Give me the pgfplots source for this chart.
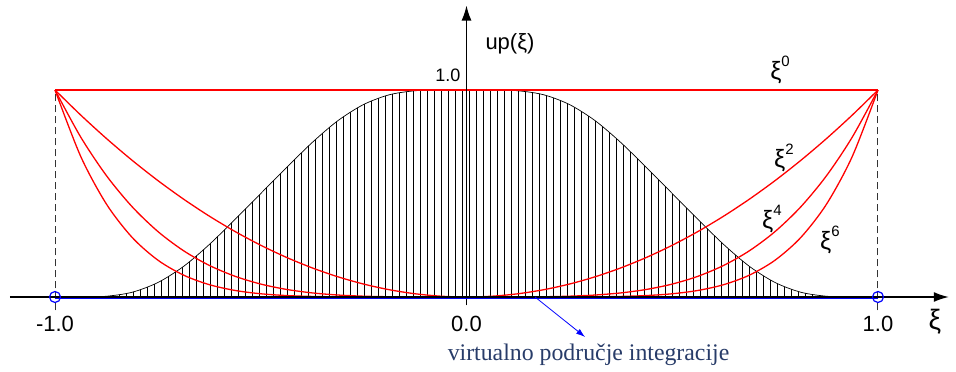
\documentclass[border=0pt]{standalone}
\usepackage{pgfplots}
\pgfplotsset{compat=1.18}
\usepackage{pgfplotstable}
\usepackage{fontspec}
\setmainfont{Liberation Sans}
\newfontfamily\seriffont{Liberation Serif}
\usetikzlibrary{arrows.meta,patterns.meta}
\definecolor{txtblue}{RGB}{40,60,105}
\definecolor{pureblue}{RGB}{0,0,255}
\definecolor{purered}{RGB}{255,0,0}

\pgfplotstableread{
x up x2 x4 x6
-1 0 1 1 1
-0.9375 0.0001 0.878906 0.772476 0.678934
-0.875 0.0037 0.765625 0.586182 0.448795
-0.8125 0.0230 0.660156 0.435806 0.287700
-0.75 0.0700 0.5625 0.316406 0.177979
-0.6875 0.1480 0.472656 0.223404 0.105593
-0.625 0.2537 0.390625 0.152588 0.059605
-0.5625 0.3751 0.316406 0.100113 0.031676
-0.5 0.5 0.25 0.0625 0.015625
-0.4375 0.6249 0.191406 0.036636 0.007012
-0.375 0.7463 0.140625 0.019775 0.002781
-0.3125 0.8520 0.097656 0.009537 0.000931
-0.25 0.9300 0.0625 0.003906 0.000244
-0.1875 0.9770 0.035156 0.001236 0.000043
-0.125 0.9963 0.015625 0.000244 0.000004
-0.0625 0.9999 0.003906 0.000015 0
0 1 0 0 0
0.0625 0.9999 0.003906 0.000015 0
0.125 0.9963 0.015625 0.000244 0.000004
0.1875 0.9770 0.035156 0.001236 0.000043
0.25 0.9300 0.0625 0.003906 0.000244
0.3125 0.8520 0.097656 0.009537 0.000931
0.375 0.7463 0.140625 0.019775 0.002781
0.4375 0.6249 0.191406 0.036636 0.007012
0.5 0.5 0.25 0.0625 0.015625
0.5625 0.3751 0.316406 0.100113 0.031676
0.625 0.2537 0.390625 0.152588 0.059605
0.6875 0.1480 0.472656 0.223404 0.105593
0.75 0.0700 0.5625 0.316406 0.177979
0.8125 0.0230 0.660156 0.435806 0.287700
0.875 0.0037 0.765625 0.586182 0.448795
0.9375 0.0001 0.878906 0.772476 0.678934
1 0 1 1 1
}\data

\begin{document}
\begin{tikzpicture}
\begin{axis}[scale only axis, width=956pt, height=372pt,
  xmin=-1.1337, xmax=1.1896, ymin=-0.3623, ymax=1.4348,
  hide axis, clip=false]
% hatched area under up(xi)
\addplot[draw=none, pattern={Lines[angle=90,distance=7pt,line width=1pt]}, pattern color=black, smooth, tension=0.5]
  table[x=x,y=up]{\data} \closedcycle;
\addplot[black, line width=0.7pt, smooth, tension=0.5] table[x=x,y=up]{\data};
% dashed verticals
\addplot[gray!40!black, dash pattern=on 7pt off 4pt, line width=1pt] coordinates {(-1,-0.065) (-1,1)};
\addplot[gray!40!black, dash pattern=on 7pt off 4pt, line width=1pt] coordinates {(1,-0.065) (1,1)};
% red curves
\addplot[purered, line width=1.3pt] coordinates {(-1,1) (1,1)};
\addplot[purered, line width=1.3pt, smooth] table[x=x,y=x2]{\data};
\addplot[purered, line width=1.3pt, smooth] table[x=x,y=x4]{\data};
\addplot[purered, line width=1.3pt, smooth] table[x=x,y=x6]{\data};
% axes
\addplot[black, line width=1.4pt, -{Latex[length=15pt,width=10pt]}] coordinates {(-1.11,0) (1.172,0)};
\addplot[black, line width=1.4pt, -{Latex[length=15pt,width=10pt]}] coordinates {(0,-0.04) (0,1.408)};
% blue line and circles
\addplot[pureblue, line width=1.8pt] coordinates {(-1,-0.007) (1,-0.007)};
\addplot[only marks, mark=o, mark size=5.5pt, pureblue, mark options={line width=1.2pt}] coordinates {(-1,0) (1,0)};
% blue arrow
\addplot[pureblue, line width=0.8pt, -{Latex[length=9pt,width=6pt]}] coordinates {(0.1665,0) (0.288,-0.193)};
% labels
\node[font=\fontsize{22}{26}\selectfont] at (axis cs:-1,-0.13) {-1.0};
\node[font=\fontsize{22}{26}\selectfont] at (axis cs:0,-0.13) {0.0};
\node[font=\fontsize{22}{26}\selectfont] at (axis cs:1,-0.13) {1.0};
\node[font=\fontsize{28}{30}\selectfont] at (axis cs:1.1385,-0.121) {ξ};
\node[font=\fontsize{18}{20}\selectfont] at (axis cs:-0.045,1.072) {1.0};
\node[font=\fontsize{22}{26}\selectfont] at (axis cs:0.1057,1.222) {up(ξ)};
\node at (axis cs:0.762,1.097) {\fontsize{25}{28}\selectfont ξ\raisebox{0.5em}{\fontsize{15}{18}\selectfont 0}};
\node at (axis cs:0.7716,0.6715) {\fontsize{25}{28}\selectfont ξ\raisebox{0.5em}{\fontsize{15}{18}\selectfont 2}};
\node at (axis cs:0.742,0.377) {\fontsize{25}{28}\selectfont ξ\raisebox{0.5em}{\fontsize{15}{18}\selectfont 4}};
\node at (axis cs:0.8833,0.275) {\fontsize{25}{28}\selectfont ξ\raisebox{0.5em}{\fontsize{15}{18}\selectfont 6}};
\node[text=txtblue, font=\seriffont\fontsize{23.8}{26}\selectfont] at (axis cs:0.2966,-0.279) {virtualno područje integracije};
\end{axis}
\pgfresetboundingbox
\path (current axis.south west) rectangle (current axis.north east);
\end{tikzpicture}
\end{document}
